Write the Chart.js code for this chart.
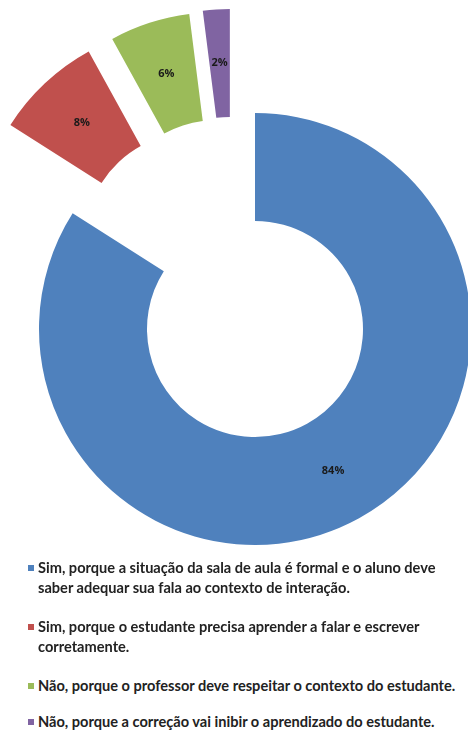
<!DOCTYPE html>
<html>
<head>
<meta charset="utf-8">
<script src="https://cdn.jsdelivr.net/npm/chart.js@4/dist/chart.umd.min.js"></script>
<style>
  html, body { margin: 0; padding: 0; background: #ffffff; }
  #wrap { position: relative; width: 468px; height: 743px; overflow: hidden; }
  #chartBox { position: absolute; left: 0; top: 0; width: 468px; height: 560px; }
  .item { position: absolute; left: 0; width: 468px; font-family: Lato, sans-serif; font-weight: 700; font-size: 14.6px; line-height: 19.5px; color: #222222; white-space: nowrap; }
  .item .sw { position: absolute; left: 28px; top: 7px; width: 6px; height: 6px; }
  .item .tx { position: absolute; left: 38px; top: 0; }
</style>
</head>
<body>
<div id="wrap">
  <div id="chartBox"><canvas id="c"></canvas></div>
  <div id="legend"></div>
</div>
<script>
// ---- data ----
const categories = [
  ["Sim, porque a situação da sala de aula é formal e o aluno deve", "saber adequar sua fala ao contexto de interação."],
  ["Sim, porque o estudante precisa aprender a falar e escrever", "corretamente."],
  ["Não, porque o professor deve respeitar o contexto do estudante."],
  ["Não, porque a correção vai inibir o aprendizado do estudante."]
];
const percentValues = [84, 8, 6, 2];

// ---- styles ----
const sliceColors = ["#4F81BD", "#C0504D", "#9BBB59", "#8064A2"];
const explodeDistance = [0, 108, 108, 107];
const explodeAngleShiftDeg = [0, 8, -3, -10];
const legendTops = [558, 617, 676, 712];

const explodePlugin = {
  id: 'explodeSlices',
  beforeDatasetDraw(chart, args) {
    const ctx = chart.ctx;
    const meta = args.meta;
    meta.data.forEach((arc, i) => {
      const dir = (arc.startAngle + arc.endAngle) / 2 + (explodeAngleShiftDeg[i] || 0) * Math.PI / 180;
      const d = explodeDistance[i] || 0;
      ctx.save();
      ctx.translate(Math.cos(dir) * d, Math.sin(dir) * d);
      arc.draw(ctx);
      const p = arc.tooltipPosition();
      ctx.fillStyle = '#1a1a1a';
      ctx.font = 'bold 11px "Open Sans", sans-serif';
      ctx.textAlign = 'center';
      ctx.textBaseline = 'middle';
      ctx.fillText(chart.data.datasets[0].data[i] + '%', p.x, p.y);
      ctx.restore();
    });
    return false;
  }
};

new Chart(document.getElementById('c'), {
  type: 'doughnut',
  data: {
    labels: categories,
    datasets: [{
      data: percentValues,
      backgroundColor: sliceColors,
      borderColor: '#ffffff',
      borderWidth: 0
    }]
  },
  options: {
    responsive: true,
    maintainAspectRatio: false,
    animation: false,
    radius: 216,
    cutout: '50%',
    layout: { padding: { left: 42, top: 98, right: 0, bottom: 0 } },
    plugins: { legend: { display: false }, tooltip: { enabled: false } }
  },
  plugins: [explodePlugin]
});

// HTML legend built from the same arrays
const legend = document.getElementById('legend');
categories.forEach((lines, i) => {
  const it = document.createElement('div');
  it.className = 'item';
  it.style.top = legendTops[i] + 'px';
  const sw = document.createElement('span');
  sw.className = 'sw';
  sw.style.background = sliceColors[i];
  const tx = document.createElement('span');
  tx.className = 'tx';
  tx.innerHTML = lines.map(s => s.replace(/&/g, '&amp;').replace(/</g, '&lt;')).join('<br>');
  it.appendChild(sw);
  it.appendChild(tx);
  legend.appendChild(it);
});
</script>
</body>
</html>
